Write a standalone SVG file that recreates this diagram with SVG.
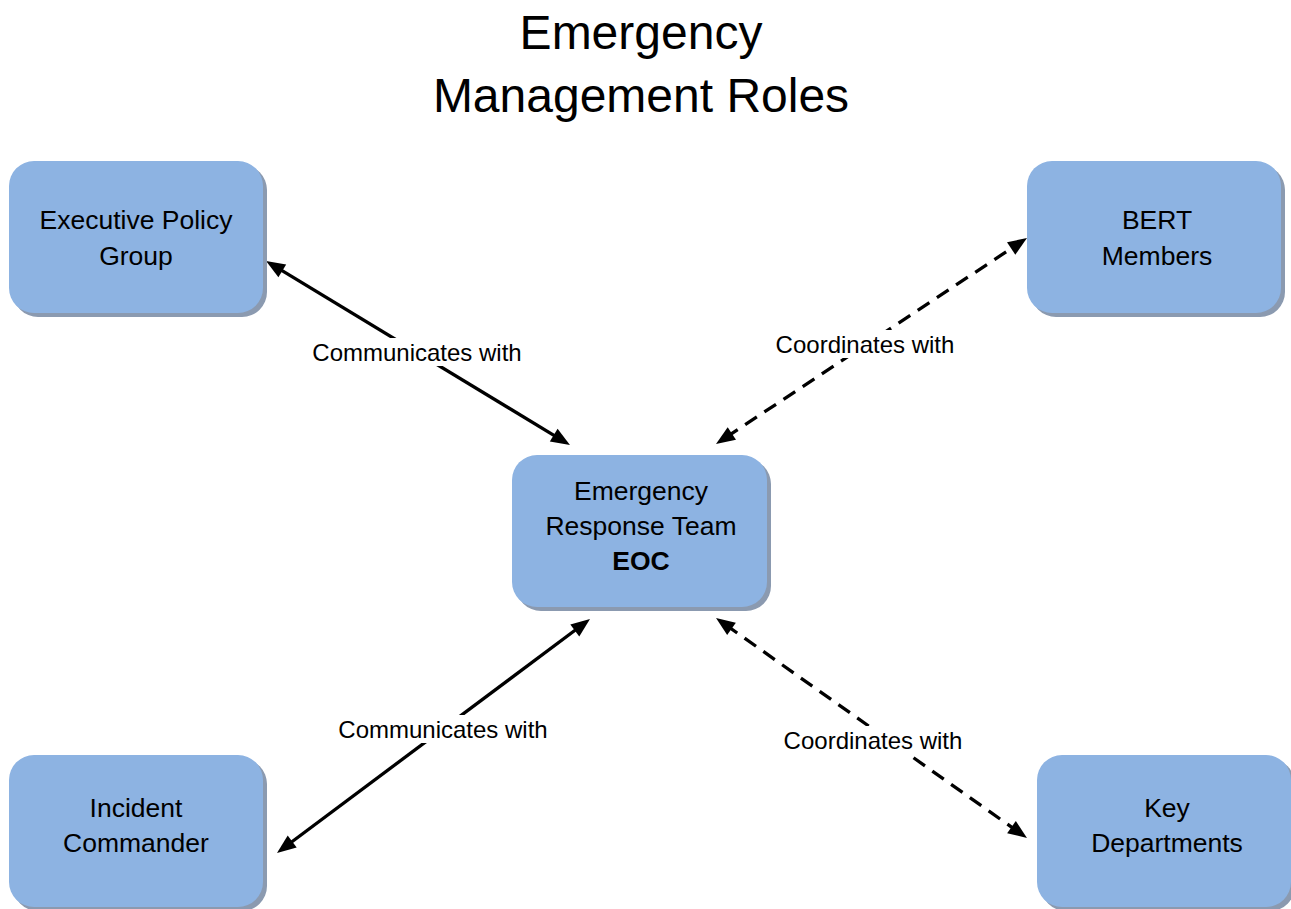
<svg xmlns="http://www.w3.org/2000/svg" width="1291" height="909" viewBox="0 0 1291 909">
  <style>
    .box { fill: #8DB3E2; }
    .shadow { fill: #8B9AB0; }
    .ntext { font-family: "Liberation Sans", Arial, sans-serif; font-size: 26.5px; fill: #000; text-anchor: middle; }
    .bold { font-weight: bold; }
    .title { font-family: "Liberation Sans", Arial, sans-serif; font-size: 48px; fill: #000; text-anchor: middle; }
    .label { font-family: "Liberation Sans", Arial, sans-serif; font-size: 24px; fill: #000; text-anchor: middle; }
    .conn { stroke: #000; stroke-width: 3.3; fill: none; marker-start: url(#arrow); marker-end: url(#arrow); }
    .dash { stroke-dasharray: 14 9; }
    .lblbg { fill: #fff; }
  </style>
  <defs>
    <marker id="arrow" markerUnits="userSpaceOnUse" markerWidth="19" markerHeight="15" refX="7" refY="7.5" orient="auto-start-reverse" overflow="visible">
      <path d="M0,0 L19,7.5 L0,15 z" fill="#000"/>
    </marker>
  </defs>

  <rect width="1291" height="909" fill="#fff"/>

  <g id="title">
    <text class="title" x="641" y="49">Emergency</text>
    <text class="title" x="641" y="112">Management Roles</text>
  </g>

  <g id="connectors">
    <line class="conn" x1="559.7" y1="438.8" x2="276.3" y2="267.2"/>
    <line class="conn dash" x1="726.0" y1="437.4" x2="1017.0" y2="244.6"/>
    <line class="conn" x1="580.4" y1="626.2" x2="286.6" y2="845.8"/>
    <line class="conn dash" x1="725.8" y1="624.9" x2="1017.2" y2="831.1"/>
    <rect class="lblbg" x="311" y="338" width="212" height="28"/>
    <text class="label" x="417" y="361">Communicates with</text>
    <rect class="lblbg" x="774" y="330" width="182" height="28"/>
    <text class="label" x="865" y="353">Coordinates with</text>
    <rect class="lblbg" x="337" y="715" width="212" height="28"/>
    <text class="label" x="443" y="738">Communicates with</text>
    <rect class="lblbg" x="782" y="726" width="182" height="28"/>
    <text class="label" x="873" y="749">Coordinates with</text>
  </g>

  <g id="node-epg">
    <rect class="shadow" x="13" y="165" width="254" height="152" rx="25"/>
    <rect class="box" x="9" y="161" width="254" height="152" rx="25"/>
    <text class="ntext" x="136" y="229">Executive Policy</text>
    <text class="ntext" x="136" y="265">Group</text>
  </g>

  <g id="node-bert">
    <rect class="shadow" x="1031" y="165" width="254" height="152" rx="25"/>
    <rect class="box" x="1027" y="161" width="254" height="152" rx="25"/>
    <text class="ntext" x="1157" y="229">BERT</text>
    <text class="ntext" x="1157" y="265">Members</text>
  </g>

  <g id="node-eoc">
    <rect class="shadow" x="516" y="459" width="255" height="152" rx="25"/>
    <rect class="box" x="512" y="455" width="255" height="152" rx="25"/>
    <text class="ntext" x="641" y="500">Emergency</text>
    <text class="ntext" x="641" y="535">Response Team</text>
    <text class="ntext bold" x="641" y="570">EOC</text>
  </g>

  <g id="node-ic">
    <rect class="shadow" x="13" y="759" width="254" height="152" rx="25"/>
    <rect class="box" x="9" y="755" width="254" height="152" rx="25"/>
    <text class="ntext" x="136" y="817">Incident</text>
    <text class="ntext" x="136" y="852">Commander</text>
  </g>

  <g id="node-kd">
    <rect class="shadow" x="1041" y="759" width="254" height="152" rx="25"/>
    <rect class="box" x="1037" y="755" width="254" height="152" rx="25"/>
    <text class="ntext" x="1167" y="817">Key</text>
    <text class="ntext" x="1167" y="852">Departments</text>
  </g>
</svg>
